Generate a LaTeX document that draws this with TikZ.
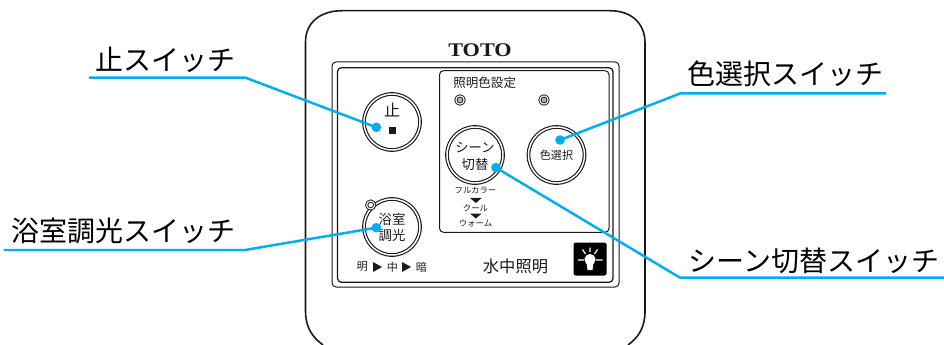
\documentclass[tikz,border=0pt]{standalone}
\usepackage{fontspec}
\newfontfamily\jp{Noto Sans CJK JP}
\definecolor{callout}{HTML}{00AEEF}
\definecolor{ink}{HTML}{1A1A1A}
\tikzset{
 x=0.75pt,y=-0.75pt,
 thin wire/.style={draw=ink,line width=0.75pt},
 callout line/.style={draw=callout,line width=1.85pt},
 callout dot/.style={circle,fill=callout,minimum size=7.2pt,inner sep=0pt},
 btn/.style={circle,draw=ink,line width=0.85pt,minimum size=42pt,inner sep=0pt,double=white,double distance=1.1pt},
 lbl/.style={font=\jp\fontsize{21}{24}\selectfont,text=black,inner sep=0pt},
 tiny/.style={font=\jp\fontsize{6.3}{8}\selectfont,text=ink,inner sep=0pt},
 small/.style={font=\jp\fontsize{8}{10}\selectfont,text=ink,inner sep=0pt,align=center},
 led/.style={circle,draw=ink,line width=0.7pt,double=white,double distance=0.8pt,fill=black!30,minimum size=6.2pt,inner sep=0pt},
 levtxt/.style={font=\jp\fontsize{8.3}{10}\selectfont,text=ink,inner sep=0pt},
}
\begin{document}
\begin{tikzpicture}
\useasboundingbox (0,0) rectangle (944,345);
% housing
\draw[draw=ink,line width=1.2pt] (323,345) .. controls (312,337) and (305.5,327) .. (305.5,311)
  -- (305.5,42) .. controls (305.5,22) and (321,10.7) .. (342,10.7) -- (610,10.7)
  .. controls (631,10.7) and (645,23) .. (645,43) -- (645,311)
  .. controls (645,327) and (639,337) .. (628,345);
\node[font=\fontspec{Liberation Serif}\bfseries\fontsize{14.5}{16}\selectfont,text=ink,inner sep=0pt] (brand) at (480,50) {\scalebox{1.15}[1]{TOTO}};
% frames
\draw[thin wire,rounded corners=3pt] (332,62) rectangle (619,287);
\draw[thin wire,line width=0.95pt,rounded corners=3pt] (337.5,67.7) rectangle (613,282.3);
\draw[thin wire,rounded corners=3pt] (439.5,70.7) rectangle (609,232.3);
\node[small,font=\jp\fontsize{9.4}{11}\selectfont] (setting) at (484.7,82.7) {照明色設定};
\node[led] (led1) at (460,100) {};
\node[led] (led2) at (544,100) {};
% buttons
\node[btn] (stop) at (392,122) {};
\node[small,font=\jp\fontsize{12}{14}\selectfont] (stoptxt) at (392,110.5) {止};
\node[fill=ink,minimum size=5.2pt,inner sep=0pt] (stopmark) at (392.5,130.5) {};
\node[btn] (scene) at (475,155) {};
\node[small,font=\jp\fontsize{10}{12.75}\selectfont] (scenetxt) at (475,156) {シーン\\切替};
\node[btn] (color) at (556.5,155) {};
\node[small,font=\jp\fontsize{8.3}{10}\selectfont] (colortxt) at (556.5,155.5) {色選択};
\node[btn] (bath) at (392,227) {};
\node[led,fill=white,minimum size=6pt] (bathled) at (370.7,205) {};
\node[small,font=\jp\fontsize{10}{12}\selectfont] (bathtxt) at (392,227.5) {浴室\\調光};
\node[levtxt] (lv1) at (362.5,267) {明};
\node[levtxt] (lv2) at (392.5,267) {中};
\node[levtxt] (lv3) at (421.5,267) {暗};
\fill[ink] (373,262) -- (382,267) -- (373,272) -- cycle;
\fill[ink] (402,262) -- (411,267) -- (402,272) -- cycle;
% scene order
\node[tiny] (full) at (475.5,190) {フルカラー};
\fill[ink] (470,198) -- (481.7,198) -- (475.8,203) -- cycle;
\node[tiny] (cool) at (475.5,208) {クール};
\fill[ink] (470,213.5) -- (481.7,213.5) -- (475.8,218.5) -- cycle;
\node[tiny] (warm) at (475.5,223) {ウォーム};
% underwater
\node[font=\jp\fontsize{12.2}{14}\selectfont,text=ink,inner sep=0pt] (water) at (515.5,266) {水中照明};
\node[fill=black,rounded corners=1.5pt,minimum size=24.75pt,inner sep=0pt] (lamp) at (590,259) {};
\fill[white] (590,259.5) circle (5.6);
\fill[white] (586.5,262) -- (593.5,262) -- (592.5,270) -- (587.5,270) -- cycle;
\draw[white,line width=0.9pt] (590,247.5) -- (590,252) (582.5,249.5) -- (585.5,254) (597.5,249.5) -- (594.5,254) (578,260) -- (584,260) (596,260) -- (602.5,260);
% callouts
\node[callout dot] (d1) at (376.3,127.3) {};
\node[callout dot] (d2) at (560,140) {};
\node[callout dot] (d3) at (496,167.7) {};
\node[callout dot] (d4) at (376.3,227.7) {};
\coordinate (a1) at (245.5,77.7); \coordinate (b1) at (89,77.7);
\coordinate (a2) at (680.7,93.3); \coordinate (b2) at (886,93.3);
\coordinate (a3) at (680,277.7); \coordinate (b3) at (944,277.7);
\coordinate (a4) at (245,250); \coordinate (b4) at (3.5,250);
\draw[callout line] (b1) -- (a1) -- (d1.center);
\draw[callout line] (b2) -- (a2) -- (d2.center);
\draw[callout line] (b3) -- (a3) -- (d3.center);
\draw[callout line] (b4) -- (a4) -- (d4.center);
\node[lbl] (t1) at (165.5,60) {止スイッチ};
\node[lbl] (t2) at (785.5,74) {色選択スイッチ};
\node[lbl] (t3) at (814,260.5) {シーン切替スイッチ};
\node[lbl] (t4) at (123.5,230.5) {浴室調光スイッチ};
\end{tikzpicture}
\end{document}
